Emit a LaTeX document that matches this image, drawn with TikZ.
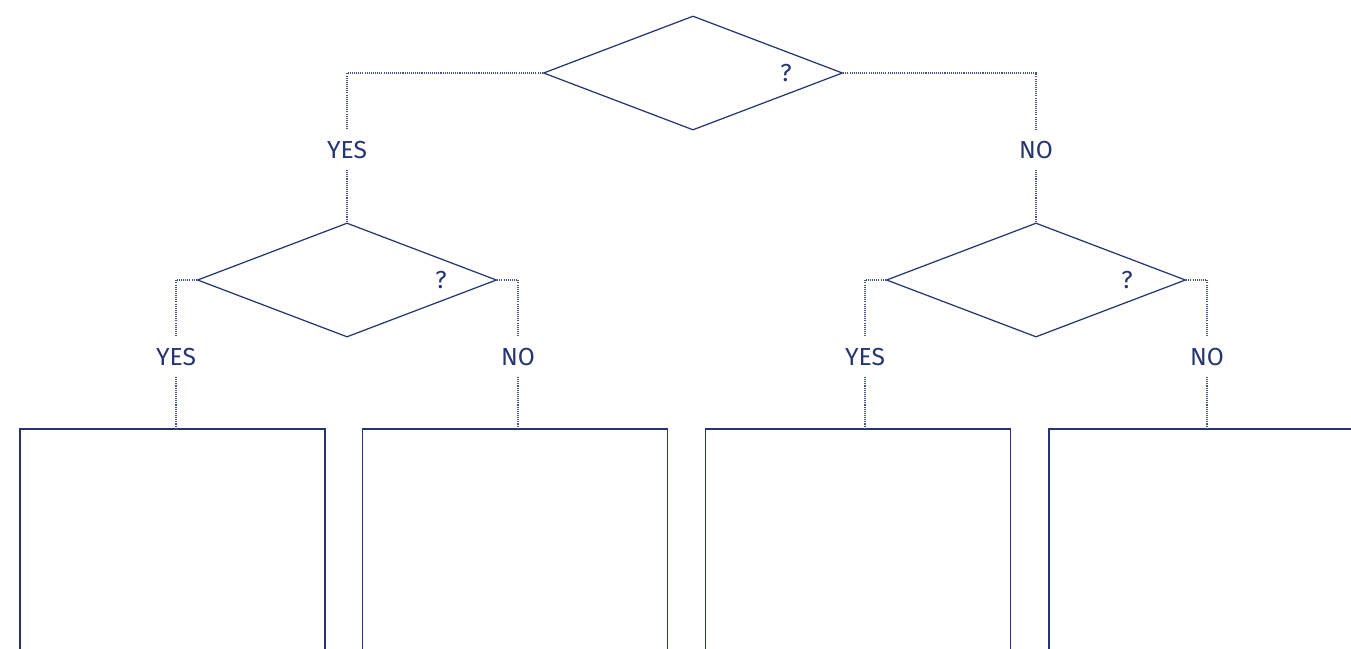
\documentclass[tikz,border=0pt]{standalone}
\usepackage{fontspec}
\setmainfont{Fira Sans}
\definecolor{FlowNavy}{RGB}{38,52,112}
\usetikzlibrary{positioning, shapes.geometric, calc}

\tikzset{
  question/.style={diamond, draw=FlowNavy, line width=0.35pt, minimum width=2.99cm, minimum height=1.14cm, inner sep=0pt},
  outcome/.style={draw=FlowNavy, line width=0.5pt, minimum width=3.05cm, minimum height=3cm, anchor=north, inner sep=0pt},
  answer/.style={text=FlowNavy, font=\fontsize{7}{8}\selectfont, inner sep=3pt},
  qmark/.style={text=FlowNavy, font=\fontsize{7}{8}\selectfont, inner sep=0pt},
  branch/.style={draw=FlowNavy!85, line width=0.3pt, dash pattern=on 0.3pt off 0.3pt},
}

\begin{document}
\begin{tikzpicture}[x=0.01cm, y=-0.01cm]
\useasboundingbox (0,0) rectangle (1351,648);
\clip (0,0) rectangle (1351,648);

% questions
\node[question] (q0) at (693,73) {};
\node[question] (q1) at (347,280) {};
\node[question] (q2) at (1036,280) {};
\node[qmark] (q0q) at (786,73) {?};
\node[qmark] (q1q) at (441,280) {?};
\node[qmark] (q2q) at (1127,280) {?};

% answers
\node[answer] (yes0) at (347,150) {YES};
\node[answer] (no0) at (1036,150) {NO};
\node[answer] (yes1) at (176,357) {YES};
\node[answer] (no1) at (518,357) {NO};
\node[answer] (yes2) at (865,357) {YES};
\node[answer] (no2) at (1207,357) {NO};

% outcomes
\node[outcome] (b1) at (172.5,428) {};
\node[outcome] (b2) at (515,428) {};
\node[outcome] (b3) at (858,428) {};
\node[outcome] (b4) at (1201.5,428) {};

% branches
\draw[branch] (q0.west) -| (yes0);
\draw[branch] (yes0) -- (yes0 |- q1.north);
\draw[branch] (q0.east) -| (no0);
\draw[branch] (no0) -- (no0 |- q2.north);
\draw[branch] (q1.west) -| (yes1);
\draw[branch] (yes1) -- (yes1 |- b1.north);
\draw[branch] (q1.east) -| (no1);
\draw[branch] (no1) -- (no1 |- b2.north);
\draw[branch] (q2.west) -| (yes2);
\draw[branch] (yes2) -- (yes2 |- b3.north);
\draw[branch] (q2.east) -| (no2);
\draw[branch] (no2) -- (no2 |- b4.north);
\end{tikzpicture}
\end{document}
